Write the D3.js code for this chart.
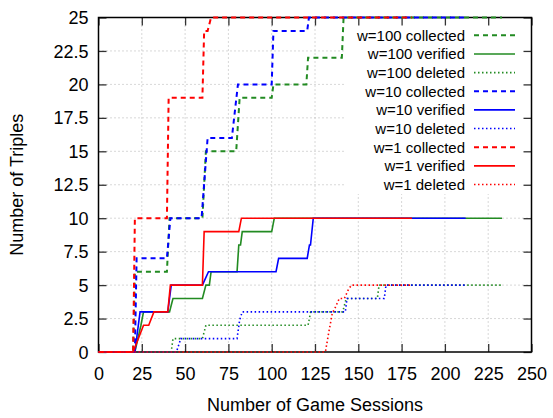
<!DOCTYPE html>
<html><head><meta charset="utf-8">
<script src="https://cdn.jsdelivr.net/npm/d3@7"></script>
<style>body{margin:0;background:#fff}svg{display:block}text{font-family:"Liberation Sans",Arial,sans-serif;fill:#000}</style>
</head><body><svg id="c" width="553" height="418"></svg>
<script>
// ---- data ----
const xTicks = [0,25,50,75,100,125,150,175,200,225,250];
const yTicks = [0,2.5,5,7.5,10,12.5,15,17.5,20,22.5,25];
const xTitle = "Number of Game Sessions";
const yTitle = "Number of Triples";

const w100Collected = [[0,0],[20,0],[21,6],[39.5,6],[41,10],[60,10],[62,15],[79.5,15],[81.5,19],[100,19],[101,20],[120,20],[121,22],[140.5,22],[141.5,25],[233,25]];
const w100Verified  = [[0,0],[21,0],[24.5,2],[26,3],[41,3],[43,4],[60,4],[62,5],[64,5],[65,6],[80,6],[81,8],[82,8],[83,9],[100,9],[101.5,10],[233,10]];
const w100Deleted   = [[0,0],[42,0],[43,1],[60,1],[62,2],[121,2],[122.5,3],[141,3],[143,4],[161,4],[162,5],[233,5]];
const w10Collected  = [[0,0],[21,0],[22,7],[39.5,7],[41.5,10],[59.5,10],[63,16],[77,16],[80.5,20],[100,20],[101,24],[120.5,24],[121.5,25],[212,25]];
const w10Verified   = [[0,0],[21,0],[24,3],[40,3],[42,5],[60,5],[63.5,6],[102.5,6],[104,7],[120.5,7],[121.8,8],[122.4,8],[124,10],[212,10]];
const w10Deleted    = [[0,0],[45,0],[47.5,1],[80,1],[81.5,2.4],[83,3],[142.5,3],[143.5,4],[165,4],[166,5],[212,5]];
const w1Collected   = [[0,0],[20,0],[21,10],[39.5,10],[40.5,19],[60,19],[61,24],[63,24],[65,25],[181,25]];
const w1Verified    = [[0,0],[20,0],[26,2],[29,2],[32,3],[40,3],[41.5,5],[60,5],[61,9],[81,9],[82.5,10],[181,10]];
const w1Deleted     = [[0,0],[131,0],[133,1.5],[135,2.9],[137,3.4],[139,4],[142,4],[144,4.6],[146,5],[181,5]];

const seriesNames = ["w=100 collected","w=100 verified","w=100 deleted","w=10 collected","w=10 verified","w=10 deleted","w=1 collected","w=1 verified","w=1 deleted"];
const seriesData = [w100Collected,w100Verified,w100Deleted,w10Collected,w10Verified,w10Deleted,w1Collected,w1Verified,w1Deleted];
const seriesColors = ["#228b22","#228b22","#228b22","#0000ff","#0000ff","#0000ff","#ff0000","#ff0000","#ff0000"];
const seriesKinds = ["collected","verified","deleted","collected","verified","deleted","collected","verified","deleted"];

// ---- layout ----
const L = 98.5, R = 531.5, T = 17.5, B = 352;
const svg = d3.select("#c");
const x = d3.scaleLinear().domain([0,250]).range([L,R]);
const y = d3.scaleLinear().domain([0,25]).range([B,T]);
const styleOf = {
  collected: {w:2, dash:"5,4"},
  verified: {w:1.6, dash:null},
  deleted: {w:1.6, dash:"1.5,2.5"}
};

// grid
const grid = svg.append("g").attr("stroke","#b0b0b0").attr("stroke-width",1).attr("stroke-dasharray","1,3");
grid.selectAll(".gx").data(xTicks.slice(1,-1)).join("line")
  .attr("x1",d=>x(d)).attr("x2",d=>x(d)).attr("y1",T).attr("y2",B);
grid.selectAll(".gy").data(yTicks.slice(1,-1)).join("line")
  .attr("y1",d=>y(d)).attr("y2",d=>y(d)).attr("x1",L).attr("x2",R);

// legend background
svg.append("rect").attr("x",345).attr("y",19).attr("width",R-345-1).attr("height",175).attr("fill","#fff");

// axes
const tickLen = 8;
const axB = svg.append("g").attr("transform",`translate(0,${B})`)
  .call(d3.axisBottom(x).tickValues(xTicks).tickSize(-tickLen).tickPadding(15).tickFormat(d3.format("d")));
const axT = svg.append("g").attr("transform",`translate(0,${T})`)
  .call(d3.axisTop(x).tickValues(xTicks).tickSize(-tickLen).tickFormat(""));
const axL = svg.append("g").attr("transform",`translate(${L},0)`)
  .call(d3.axisLeft(y).tickValues(yTicks).tickSize(-tickLen).tickPadding(10).tickFormat(d=>String(d)));
const axR = svg.append("g").attr("transform",`translate(${R},0)`)
  .call(d3.axisRight(y).tickValues(yTicks).tickSize(-tickLen).tickFormat(""));
[axB,axT,axL,axR].forEach(a=>{
  a.select(".domain").remove();
  a.selectAll(".tick line").attr("stroke","#333").attr("stroke-width",1.3);
  a.selectAll(".tick text").attr("font-size",18).attr("fill","#000").attr("font-family",'"Liberation Sans",Arial,sans-serif');
});
axL.selectAll(".tick text").attr("dy","0.34em");
svg.append("rect").attr("x",L).attr("y",T).attr("width",R-L).attr("height",B-T)
  .attr("fill","none").attr("stroke","#000").attr("stroke-width",1.5);

// data lines
const line = d3.line().x(d=>x(d[0])).y(d=>y(d[1]));
seriesData.forEach((data,i)=>{
  const s = styleOf[seriesKinds[i]];
  svg.append("path").datum(data).attr("d",line).attr("fill","none")
    .attr("stroke",seriesColors[i]).attr("stroke-width",s.w)
    .attr("stroke-dasharray",s.dash).attr("stroke-linejoin","miter");
});

// legend
const lg = svg.append("g");
seriesNames.forEach((n,i)=>{
  const yy = 35.3 + i*18.65;
  const s = styleOf[seriesKinds[i]];
  lg.append("text").attr("x",465).attr("y",yy).attr("dy","0.36em").attr("text-anchor","end")
    .attr("font-size",15).text(n);
  lg.append("line").attr("x1",474).attr("x2",515).attr("y1",yy).attr("y2",yy)
    .attr("stroke",seriesColors[i]).attr("stroke-width",s.w).attr("stroke-dasharray",s.dash);
});

// titles
svg.append("text").attr("x",(L+R)/2).attr("y",411).attr("text-anchor","middle").attr("font-size",18).text(xTitle);
svg.append("text").attr("transform",`translate(23,${(T+B)/2}) rotate(-90)`).attr("text-anchor","middle").attr("font-size",18).text(yTitle);
</script></body></html>
